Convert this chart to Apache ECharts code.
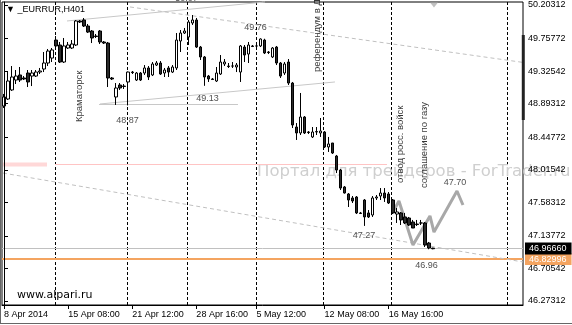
<!DOCTYPE html>
<html><head><meta charset="utf-8">
<script src="https://cdn.jsdelivr.net/npm/echarts@6/dist/echarts.min.js"></script>
<style>html,body{margin:0;padding:0;background:#fff}#c{width:572px;height:325px}</style>
</head><body><div id="c"></div>
<script>
const opens = [48.862,48.955,49.075,49.207,49.274,49.234,49.300,49.260,49.260,49.313,
49.353,49.433,49.499,49.738,49.672,49.446,49.632,49.632,49.672,49.991,
50.004,49.924,49.858,49.791,49.858,49.712,49.698,49.234,48.982,49.141,
49.127,49.181,49.313,49.207,49.300,49.300,49.367,49.274,49.406,49.433,
49.300,49.367,49.313,49.367,49.725,49.831,49.778,49.964,50.004,49.645,
49.513,49.260,49.221,49.194,49.287,49.420,49.393,49.393,49.380,49.313,
49.645,49.552,49.659,49.659,49.659,49.738,49.579,49.513,49.645,49.433,
49.300,49.446,49.167,48.583,48.504,48.716,48.517,48.451,48.517,48.504,
48.517,48.318,48.371,48.198,48.012,47.787,47.694,47.641,47.654,47.442,
47.614,47.442,47.415,47.641,47.667,47.707,47.694,47.614,47.428,47.442,
47.389,47.375,47.322,47.295,47.309,47.309,47.043,46.975];
const closes = [48.982,49.194,49.247,49.260,49.207,49.221,49.181,49.300,49.313,49.327,
49.433,49.592,49.606,49.659,49.446,49.659,49.672,49.685,49.991,49.977,
49.924,49.844,49.765,49.785,49.712,49.698,49.234,49.221,49.101,49.101,
49.121,49.313,49.306,49.300,49.207,49.367,49.247,49.420,49.433,49.287,
49.340,49.313,49.380,49.738,49.831,49.858,49.977,50.004,49.645,49.513,
49.247,49.221,49.214,49.300,49.446,49.446,49.386,49.393,49.406,49.659,
49.539,49.672,49.652,49.659,49.752,49.566,49.572,49.632,49.433,49.260,
49.420,49.167,48.610,48.504,48.716,48.504,48.510,48.517,48.523,48.530,
48.318,48.358,48.238,48.012,47.773,47.707,47.614,47.601,47.442,47.435,
47.389,47.389,47.641,47.654,47.707,47.641,47.574,47.442,47.455,47.349,
47.309,47.282,47.242,47.288,47.309,47.017,46.977,46.967];
const lows = [48.836,48.942,49.062,49.154,49.181,49.207,49.114,49.127,49.247,49.287,
49.313,49.393,49.446,49.645,49.433,49.433,49.619,49.619,49.659,49.964,
49.911,49.831,49.698,49.765,49.685,49.685,49.114,49.207,48.876,49.075,
49.088,48.870,49.287,49.194,49.194,49.274,49.207,49.260,49.393,49.274,
49.247,49.247,49.300,49.340,49.579,49.818,49.672,49.938,49.632,49.473,
49.130,49.181,49.207,49.181,49.274,49.393,49.367,49.367,49.313,49.181,
49.446,49.433,49.645,49.632,49.645,49.552,49.552,49.499,49.406,49.234,
49.274,49.141,48.570,48.411,48.477,48.490,48.490,48.437,48.477,48.451,
48.305,48.252,48.225,47.972,47.747,47.700,47.521,47.574,47.428,47.428,
47.270,47.375,47.389,47.614,47.614,47.588,47.561,47.428,47.309,47.282,
47.295,47.270,47.250,47.269,47.282,46.990,46.960,46.960];
const highs = [49.022,49.313,49.393,49.340,49.380,49.260,49.340,49.340,49.340,49.367,
49.579,49.619,49.632,49.791,49.712,49.765,49.712,49.738,50.004,50.004,
50.030,49.951,49.871,49.818,49.871,49.725,49.712,49.247,49.167,49.167,
49.154,49.320,49.327,49.313,49.313,49.406,49.393,49.446,49.459,49.459,
49.367,49.393,49.406,49.831,49.871,49.898,50.004,50.070,50.031,49.659,
49.526,49.274,49.234,49.380,49.539,49.486,49.433,49.446,49.433,49.672,
49.672,49.712,49.672,49.685,49.760,49.755,49.592,49.645,49.659,49.446,
49.446,49.486,49.181,48.636,49.035,48.729,48.530,48.583,48.583,48.703,
48.530,48.451,48.371,48.212,48.026,47.800,47.707,47.667,47.667,47.455,
47.627,47.481,47.667,47.680,47.773,47.773,47.720,47.627,47.508,47.455,
47.442,47.389,47.349,47.349,47.349,47.322,47.057,46.980];

const slotCount = 130;
const xTickIndex = [0, 16, 32, 48, 63, 80, 96];
const xTickText = ['8 Apr 2014', '15 Apr 08:00', '21 Apr 12:00', '28 Apr 16:00', '5 May 12:00', '12 May 08:00', '16 May 16:00'];
const yTickValues = [50.20312, 49.75772, 49.32542, 48.89312, 48.44772, 48.01542, 47.58312, 47.13772, 46.70542, 46.27312];
const yMin = 46.2200, yMax = 50.24295;

const bidPrice = 46.96660;
const levelPrice = 46.82996;

const separators = [12.85, 30.81, 45.78, 63.0, 79.72, 96.68, 125.62];
const solidLines = [
  [[15.72, 49.991], [65.12, 50.243]],
  [[23.7, 48.882], [58.38, 48.882]],
  [[23.95, 48.889], [82.58, 49.181]]
];
const dashedLines = [
  [[31.44, 50.177], [141.2, 49.353]],
  [[-0.25, 47.972], [129.5, 46.791]]
];
const pinkThick = [[-0.25, 48.0854], [10.73, 48.0854]];
const pinkThin = [[12.72, 48.0854], [95.56, 48.0854]];
const rangeBar = [[129.57, 49.805], [129.57, 48.676]];
const zigzagX = [97.05, 98.55, 102.05, 106.29, 107.29, 113.03, 114.52];
const zigzagY = [47.455, 47.601, 47.017, 47.402, 47.189, 47.734, 47.548];
const shiftMarker = [107.29, 50.203];

const priceNotes = ['48.87', '49.13', '49.76', '50.07', '47.27', '46.96', '47.70'];
const priceNoteX = [30.81, 50.77, 62.75, 45.53, 89.82, 105.41, 112.52];
const priceNoteY = [48.663, 48.955, 49.898, 50.283, 47.136, 46.738, 47.840];

const eventNotes = ['Краматорск', 'референдум в Донецке', 'отвод росс. войск', 'соглашение по газу'];
const eventNoteX = [18.71, 78.22, 98.80, 104.79];
const eventNoteY = [48.650, 49.313, 47.840, 47.773];

const FONT = 'Liberation Sans';
const tickSet = new Set(xTickIndex);
const categories = Array.from({length: slotCount}, (_, i) => {
  const j = xTickIndex.indexOf(i);
  return j >= 0 ? xTickText[j] : String(i);
});
const candleData = opens.map((o, i) => [o, closes[i], lows[i], highs[i]]);

function lineSeries(pts, style) {
  return {type: 'line', xAxisIndex: 1, yAxisIndex: 0, data: pts, symbol: 'none', showSymbol: false,
    clip: false, silent: true, animation: false, lineStyle: style, zlevel: 1, z: 1};
}

const series = [];
series.push(lineSeries(pinkThick, {color: '#ffd8d8', width: 4}));
series.push(lineSeries(pinkThin, {color: '#ffc4c4', width: 1}));
solidLines.forEach(l => series.push(lineSeries(l, {color: '#c8c8c8', width: 1})));
dashedLines.forEach(l => series.push(lineSeries(l, {color: '#c0c0c0', width: 1, type: [4, 3]})));
series.push(Object.assign(lineSeries([[0, yMin]], {opacity: 0}), {
  markLine: {symbol: 'none', silent: true, animation: false, label: {show: false},
    lineStyle: {color: '#000', type: [3, 2], width: 1},
    data: separators.map(v => ({xAxis: v}))}
}));
series.push(lineSeries(rangeBar, {color: '#222', width: 3}));
series.push({
  type: 'candlestick', xAxisIndex: 0, yAxisIndex: 0, data: candleData, barWidth: 3, zlevel: 1, z: 3,
  itemStyle: {color: '#ffffff', color0: '#2a2a2a', borderColor: '#000', borderColor0: '#000', borderColorDoji: '#000', borderWidth: 1},
  markLine: {symbol: 'none', silent: true, animation: false,
    data: [
      {yAxis: levelPrice, lineStyle: {color: '#f4a460', width: 2, type: 'solid'},
       label: {show: true, position: 'end', distance: 2, formatter: () => levelPrice.toFixed(5),
         backgroundColor: '#f4a460', color: '#fff', fontSize: 9, fontFamily: FONT, padding: [2, 5, 1, 4]}},
      {yAxis: bidPrice, lineStyle: {color: '#c0c0c0', width: 1, type: 'solid'},
       label: {show: true, position: 'end', distance: 2, formatter: () => bidPrice.toFixed(5),
         backgroundColor: '#000', color: '#fff', fontSize: 9, fontFamily: FONT, padding: [2, 5, 1, 4]}}
    ]}
});
series.push(lineSeries(zigzagX.map((x, i) => [x, zigzagY[i]]), {color: '#a8a8a8', width: 3}));
series.push({type: 'scatter', xAxisIndex: 1, yAxisIndex: 0, clip: false, silent: true, zlevel: 1, z: 4,
  symbol: 'triangle', symbolRotate: 180, symbolSize: [8, 5], itemStyle: {color: '#b0b0b0'},
  data: [shiftMarker]});
series.push({type: 'scatter', xAxisIndex: 1, yAxisIndex: 0, clip: false, silent: true, zlevel: 1, z: 5,
  symbolSize: 0,
  label: {show: true, position: 'inside', align: 'center', verticalAlign: 'middle',
    color: '#222', fontSize: 9, fontFamily: FONT, formatter: p => p.name},
  data: priceNotes.map((t, i) => ({name: t, value: [priceNoteX[i], priceNoteY[i]]}))});
series.push({type: 'scatter', xAxisIndex: 1, yAxisIndex: 0, clip: false, silent: true, zlevel: 1, z: 5,
  symbolSize: 0,
  label: {show: true, position: 'inside', rotate: 90, align: 'left', verticalAlign: 'middle',
    color: '#000', fontSize: 9.5, fontFamily: FONT, formatter: p => p.name},
  data: eventNotes.map((t, i) => ({name: t, value: [eventNoteX[i], eventNoteY[i]]}))});

const option = {
  animation: false,
  backgroundColor: '#ffffff',
  textStyle: {fontFamily: FONT},
  title: [
    {text: '▼ _EURRUR,H401', left: 6, top: 5, padding: 0, z: 10,
     textStyle: {fontSize: 9, fontWeight: 'normal', color: '#000', fontFamily: FONT}},
    {text: 'www.alpari.ru', left: 17, top: 290, padding: 0, z: 10,
     textStyle: {fontSize: 11, fontWeight: 'normal', color: '#000', fontFamily: 'DejaVu Sans'}}
  ],
  graphic: [
    {type: 'text', x: 257, y: 172, z: 0, zlevel: 1, silent: true,
     style: {text: 'Портал для трейдеров - ForTrader.ru', fill: '#cfcfcf', font: '16.5px "DejaVu Sans"', verticalAlign: 'middle'}},
    {type: 'line', z: 10, silent: true, shape: {x1: 0, y1: 323.5, x2: 572, y2: 323.5}, style: {stroke: '#666', lineWidth: 1}},
    {type: 'line', z: 10, silent: true, shape: {x1: 0.5, y1: 0, x2: 0.5, y2: 324}, style: {stroke: '#666', lineWidth: 1}}
  ],
  grid: {left: 2, right: 49, top: 2, bottom: 20, show: true, borderColor: '#000', borderWidth: 1, backgroundColor: 'transparent'},
  xAxis: [
    {type: 'category', data: categories, boundaryGap: true,
     axisLine: {show: true, lineStyle: {color: '#000'}},
     axisTick: {show: true, interval: i => tickSet.has(i), alignWithLabel: true, length: 4, lineStyle: {color: '#000'}},
     axisLabel: {interval: i => tickSet.has(i), align: 'left', color: '#000', fontSize: 9, fontFamily: FONT, margin: 5},
     splitLine: {show: false}},
    {type: 'value', min: -0.5, max: slotCount - 0.5, show: false, splitLine: {show: false}}
  ],
  yAxis: {type: 'value', position: 'right', min: yMin, max: yMax, zlevel: 2,
    axisLine: {show: true, lineStyle: {color: '#000'}},
    axisTick: {show: true, customValues: yTickValues, length: 4, lineStyle: {color: '#000'}},
    axisLabel: {customValues: yTickValues, formatter: v => v.toFixed(5), color: '#000', fontSize: 9, fontFamily: FONT, margin: 5},
    splitLine: {show: false}},
  series: series
};
const chart = echarts.init(document.getElementById('c'), null, {renderer: 'canvas'});
chart.setOption(option);
</script></body></html>
